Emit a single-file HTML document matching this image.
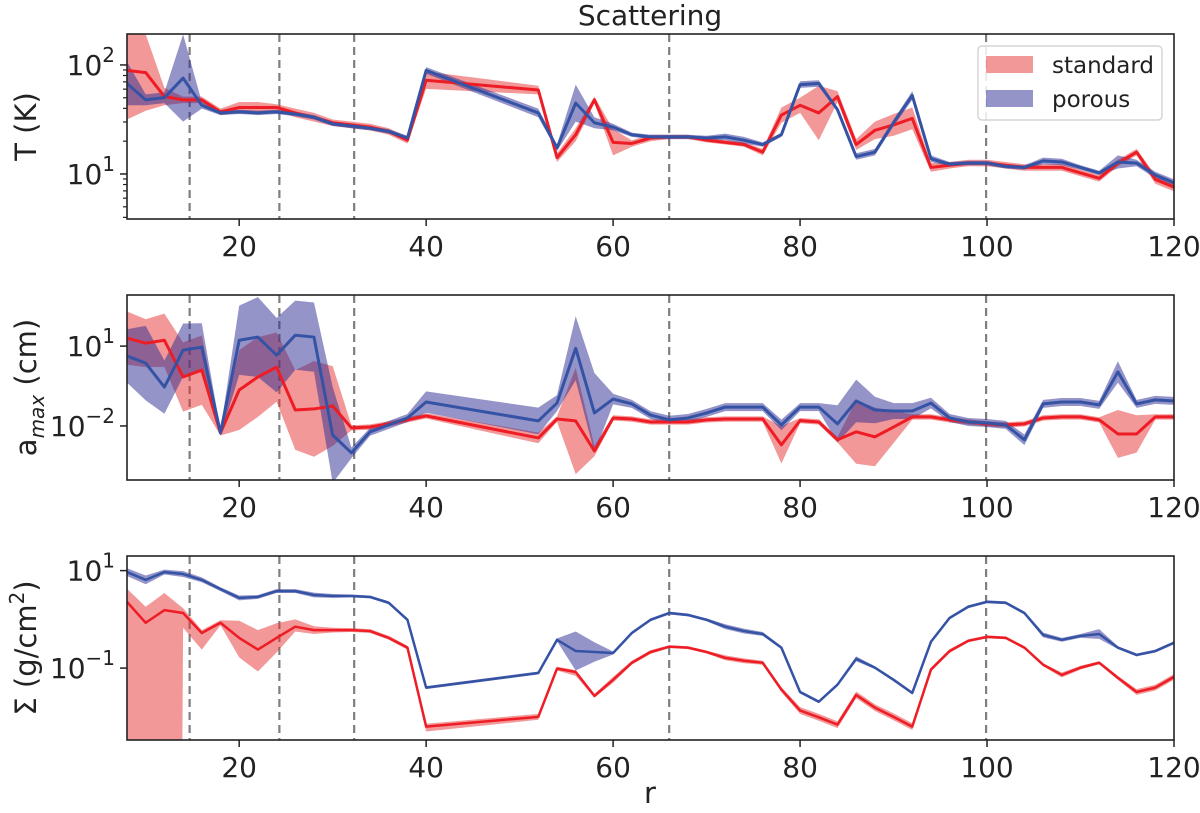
<!DOCTYPE html>
<html><head><meta charset="utf-8">
<style>
html,body{margin:0;padding:0;background:#fff;overflow:hidden;width:1200px;height:813px;}
svg{display:block;font-family:"DejaVu Sans","Liberation Sans",sans-serif;}
</style></head>
<body>
<svg id="chart" width="1200" height="813" viewBox="0 0 1200 813"></svg>
<script>
const radii = [8,10,12,14,16,18,20,22,24,26,28,30,32,34,36,38,40,52,54,56,58,60,62,64,66,68,70,72,74,76,78,80,82,84,86,88,90,92,94,96,98,100,102,104,106,108,110,112,114,116,118,120];
const gapLines = [14.7,24.3,32.3,66,99.9];
const xTicks = [20,40,60,80,100,120];
// log10 T (K)
const logT_std = [1.95,1.93,1.71,1.68,1.68,1.57,1.61,1.61,1.61,1.56,1.52,1.47,1.45,1.43,1.39,1.31,1.86,1.77,1.15,1.36,1.68,1.29,1.28,1.33,1.34,1.34,1.31,1.29,1.27,1.20,1.54,1.63,1.56,1.71,1.27,1.40,1.45,1.51,1.06,1.08,1.10,1.10,1.08,1.06,1.06,1.06,1.01,0.96,1.10,1.20,0.95,0.88];
const errT_std = [0.45,0.35,0.08,0.03,0.03,0.03,0.05,0.05,0.03,0.04,0.04,0.03,0.03,0.03,0.03,0.03,0.08,0.04,0.04,0.06,0.03,0.12,0.03,0.03,0.02,0.02,0.02,0.02,0.02,0.03,0.07,0.07,0.25,0.05,0.05,0.08,0.1,0.1,0.04,0.03,0.03,0.03,0.03,0.03,0.03,0.03,0.03,0.03,0.03,0.03,0.04,0.04];
const logT_por = [1.83,1.68,1.70,1.88,1.63,1.56,1.57,1.56,1.57,1.55,1.52,1.46,1.44,1.42,1.39,1.33,1.95,1.56,1.24,1.65,1.47,1.43,1.36,1.34,1.34,1.34,1.33,1.34,1.31,1.27,1.36,1.82,1.83,1.59,1.16,1.20,1.47,1.72,1.14,1.09,1.10,1.10,1.07,1.06,1.12,1.11,1.06,1.01,1.11,1.10,0.99,0.92];
const errT_por = [0.2,0.05,0.05,0.4,0.03,0.02,0.02,0.02,0.02,0.02,0.02,0.02,0.02,0.02,0.02,0.02,0.03,0.04,0.03,0.17,0.05,0.03,0.02,0.02,0.02,0.02,0.02,0.03,0.03,0.02,0.02,0.03,0.03,0.02,0.03,0.03,0.03,0.04,0.03,0.02,0.02,0.02,0.02,0.02,0.03,0.03,0.02,0.02,0.06,0.03,0.03,0.03];
// log10 a_max (cm)
const logA_std = [1.30,1.11,1.22,-0.16,0.10,-2.26,-0.65,-0.16,0.21,-1.40,-1.36,-1.25,-2.07,-2.04,-1.92,-1.77,-1.62,-2.45,-1.74,-1.81,-2.94,-1.70,-1.74,-1.85,-1.85,-1.85,-1.77,-1.74,-1.74,-1.74,-2.71,-1.80,-1.85,-2.52,-2.22,-2.41,-2.04,-1.66,-1.66,-1.77,-1.85,-1.92,-1.96,-1.92,-1.70,-1.66,-1.66,-1.77,-2.30,-2.30,-1.66,-1.66];
const errA_std = [1.0,0.9,1.0,1.3,1.3,0.1,1.5,1.5,1.3,1.5,1.8,1.5,0.1,0.1,0.1,0.1,0.1,0.2,0.1,2.0,0.2,0.1,0.1,0.1,0.1,0.1,0.1,0.1,0.1,0.1,0.7,0.1,0.1,0.1,1.2,1.1,0.6,0.1,0.1,0.1,0.1,0.1,0.1,0.1,0.1,0.1,0.1,0.1,0.9,0.7,0.1,0.1];
const logA_por = [0.63,0.36,-0.54,0.85,0.96,-2.26,1.22,1.34,0.66,1.41,1.34,-2.34,-3.01,-2.22,-1.96,-1.70,-1.10,-1.81,-1.14,0.92,-1.51,-0.99,-1.17,-1.59,-1.77,-1.70,-1.51,-1.29,-1.29,-1.29,-1.96,-1.29,-1.29,-1.92,-1.06,-1.40,-1.44,-1.44,-1.14,-1.70,-1.85,-1.89,-1.96,-2.52,-1.17,-1.10,-1.10,-1.21,0.03,-1.17,-1.02,-1.06];
const errA_por = [1.0,1.4,1.0,1.0,0.9,0.1,1.3,1.5,1.4,1.3,1.3,1.8,0.2,0.15,0.15,0.15,0.4,0.5,0.3,1.2,1.5,0.2,0.15,0.15,0.15,0.15,0.15,0.15,0.15,0.15,0.2,0.15,0.15,0.7,0.8,0.5,0.3,0.3,0.2,0.15,0.15,0.15,0.15,0.2,0.15,0.15,0.15,0.15,0.4,0.15,0.15,0.15];
// log10 Sigma (g/cm^2)
const logS_std = [0.36,-0.07,0.19,0.13,-0.28,-0.07,-0.38,-0.62,-0.38,-0.15,-0.22,-0.22,-0.22,-0.24,-0.38,-0.58,-2.20,-2.00,-1.01,-1.08,-1.57,-1.24,-0.89,-0.67,-0.56,-0.58,-0.67,-0.79,-0.85,-0.89,-1.44,-1.87,-2.01,-2.16,-1.55,-1.81,-2.00,-2.20,-1.03,-0.65,-0.44,-0.36,-0.38,-0.58,-0.93,-1.14,-0.99,-0.89,-1.20,-1.49,-1.40,-1.18];
const errS_std_hi = [0.27,0.33,0.35,0.1,0.06,0.05,0.35,0.4,0.3,0.15,0.08,0.05,0.04,0.04,0.04,0.04,0.06,0.06,0.04,0.04,0.04,0.06,0.04,0.04,0.03,0.03,0.03,0.05,0.05,0.04,0.05,0.07,0.07,0.07,0.07,0.07,0.07,0.07,0.04,0.04,0.03,0.03,0.03,0.03,0.03,0.05,0.04,0.03,0.04,0.06,0.06,0.06];
const errS_std_lo = [20,20,60,0.3,0.34,0.05,0.4,0.45,0.3,0.1,0.08,0.05,0.04,0.04,0.04,0.04,0.1,0.06,0.04,0.08,0.04,0.06,0.04,0.04,0.03,0.03,0.03,0.05,0.05,0.04,0.05,0.07,0.07,0.07,0.07,0.07,0.07,0.07,0.04,0.04,0.03,0.03,0.03,0.03,0.03,0.05,0.04,0.03,0.04,0.06,0.06,0.06];
const logS_por = [0.97,0.81,0.97,0.93,0.81,0.62,0.44,0.46,0.58,0.58,0.50,0.48,0.48,0.46,0.34,-0.01,-1.40,-1.10,-0.42,-0.65,-0.67,-0.69,-0.28,-0.01,0.13,0.09,-0.01,-0.15,-0.24,-0.30,-0.58,-1.49,-1.69,-1.34,-0.81,-0.99,-1.24,-1.51,-0.46,0.03,0.26,0.36,0.34,0.13,-0.32,-0.42,-0.34,-0.30,-0.58,-0.73,-0.65,-0.48];
const errS_por = [0.08,0.09,0.05,0.06,0.05,0.04,0.05,0.04,0.04,0.04,0.05,0.04,0.03,0.03,0.03,0.03,0.03,0.03,0.03,0.4,0.2,0.03,0.03,0.03,0.03,0.03,0.03,0.05,0.05,0.04,0.03,0.03,0.03,0.03,0.05,0.03,0.03,0.03,0.03,0.03,0.03,0.03,0.03,0.03,0.05,0.04,0.04,0.1,0.03,0.03,0.03,0.03];

const NS="http://www.w3.org/2000/svg";
const svg=document.getElementById('chart');
const X0=127,X1=1174,RMIN=8,RMAX=120;
function xs(r){return X0+(r-RMIN)/(RMAX-RMIN)*(X1-X0);}
function mk(tag,attrs,parent){const e=document.createElementNS(NS,tag);for(const k in attrs)e.setAttribute(k,attrs[k]);(parent||svg).appendChild(e);return e;}
function clipEdge(pts,inside,inter){
  const out=[];
  for(let i=0;i<pts.length;i++){
    const a=pts[i],b=pts[(i+1)%pts.length];
    const ia=inside(a),ib=inside(b);
    if(ia)out.push(a);
    if(ia!==ib)out.push(inter(a,b));
  }
  return out;
}
function clipY(pts,ymin,ymax){
  const ix=(a,b,y)=>[a[0]+(b[0]-a[0])*(y-a[1])/(b[1]-a[1]),y];
  let r=clipEdge(pts,p=>p[1]<=ymax,(a,b)=>ix(a,b,ymax));
  r=clipEdge(r,p=>p[1]>=ymin,(a,b)=>ix(a,b,ymin));
  return r;
}

const panels=[
 {key:'temperature',top:34,bot:219,lmin:0.587,lmax:2.284,major:[[2,'10','2'],[1,'10','1']],minor:true,
  series:[[logT_std,errT_std,errT_std],[logT_por,errT_por,errT_por]],lw:3},
 {key:'amax',top:295,bot:480,lmin:-4.03,lmax:2.92,major:[[1,'10','1'],[-2,'10','\u22122']],minor:false,
  series:[[logA_std,errA_std,errA_std],[logA_por,errA_por,errA_por]],lw:3},
 {key:'sigma',top:556,bot:740,lmin:-2.475,lmax:1.30,major:[[1,'10','1'],[-1,'10','\u22121']],minor:false,
  series:[[logS_std,errS_std_hi,errS_std_lo],[logS_por,errS_por,errS_por]],lw:2.5}
];
const fills=['rgba(229,49,49,0.5)','rgba(41,41,145,0.5)'];
const lines=['#ee1c25','#3553a5'];
const names=['standard','porous'];

panels.forEach(p=>{
  const g=mk('g',{});
  
  
  const ys=l=>p.bot-(l-p.lmin)/(p.lmax-p.lmin)*(p.bot-p.top);
  const cid='clip-'+p.key;
  const cp=mk('clipPath',{id:cid},g);mk('rect',{x:X0,y:p.top,width:X1-X0,height:p.bot-p.top},cp);
  const plot=mk('g',{'clip-path':'url(#'+cid+')'},g);
  gapLines.forEach(r=>{
    const l=mk('line',{x1:xs(r),x2:xs(r),y1:p.top,y2:p.bot,stroke:'#7f7f7f','stroke-width':2.2,'stroke-dasharray':'8,5'},plot);
    
    
  });
  p.series.forEach((s,i)=>{
    const [v,eh,el]=s;
    const up=radii.map((r,j)=>[xs(r),ys(v[j]+eh[j])]);
    const dn=radii.map((r,j)=>[xs(r),ys(v[j]-el[j])]).reverse();
    const poly=clipY(up.concat(dn),p.top,p.bot);
    const band=mk('polygon',{points:poly.map(q=>q[0].toFixed(1)+','+q[1].toFixed(1)).join(' '),fill:fills[i],stroke:'none'},plot);
    
    
  });
  p.series.forEach((s,i)=>{
    const v=s[0];
    const ln=mk('polyline',{points:radii.map((r,j)=>xs(r)+','+ys(v[j])).join(' '),fill:'none',stroke:lines[i],'stroke-width':p.lw,'stroke-linejoin':'round'},plot);
    
    
  });
  const fr=mk('rect',{x:X0,y:p.top,width:X1-X0,height:p.bot-p.top,fill:'none',stroke:'#222','stroke-width':1.6},g);
  
  
  xTicks.forEach(t=>{
    mk('line',{x1:xs(t),x2:xs(t),y1:p.bot,y2:p.bot+7,stroke:'#222','stroke-width':1.5},g);
    const tx=mk('text',{x:xs(t),y:p.bot+37,'text-anchor':'middle','font-size':28,fill:'#222'},g);
    tx.textContent=t;
    
    
  });
  p.major.forEach(m=>{
    const y=ys(m[0]);
    mk('line',{x1:X0-7,x2:X0,y1:y,y2:y,stroke:'#222','stroke-width':1.5},g);
    const tx=mk('text',{x:X0-12,y:y+10,'text-anchor':'end','font-size':28,fill:'#222'},g);
    const ts=mk('tspan',{},tx);ts.textContent=m[1];
    const sup=mk('tspan',{dy:-13,'font-size':20},tx);sup.textContent=m[2];
    
    
  });
  if(p.minor){
    for(let d=0;d<=2;d++)for(let k=2;k<=9;k++){
      const l=d+Math.log10(k);
      if(l>p.lmin&&l<p.lmax){const y=ys(l);mk('line',{x1:X0-4,x2:X0,y1:y,y2:y,stroke:'#222','stroke-width':1.2},g);}
    }
  }
  const cy=(p.top+p.bot)/2;
  const yt=mk('text',{x:0,y:0,transform:'translate(36,'+cy+') rotate(-90)','text-anchor':'middle','font-size':29,fill:'#222'},g);
  
  
  if(p.key==='temperature'){yt.textContent='T (K)';}
  else if(p.key==='amax'){
    const a=mk('tspan',{},yt);a.textContent='a';
    const b=mk('tspan',{dy:8,'font-size':20,'font-style':'italic'},yt);b.textContent='max';
    const c=mk('tspan',{dy:-8},yt);c.textContent=' (cm)';
  } else {
    const a=mk('tspan',{},yt);a.textContent='\u03A3 (g/cm';
    const b=mk('tspan',{dy:-12,'font-size':20},yt);b.textContent='2';
    const c=mk('tspan',{dy:12},yt);c.textContent=')';
  }
});

const tt=mk('text',{x:650,y:25,'text-anchor':'middle','font-size':28,fill:'#222'});
tt.textContent='Scattering';


const xl=mk('text',{x:650,y:803,'text-anchor':'middle','font-size':29,fill:'#222'});
xl.textContent='r';



const lg=mk('g',{});


mk('rect',{x:978,y:46,width:184,height:74,rx:4,fill:'#fff','fill-opacity':0.85,stroke:'#ccc','stroke-width':1.2},lg);
names.forEach((n,i)=>{
  const e=mk('g',{},lg);
  
  
  mk('rect',{x:986,y:56+i*34,width:47,height:17,fill:fills[i]},e);
  const t=mk('text',{x:1052,y:73+i*34,'font-size':23,fill:'#222'},e);
  t.textContent=n;
});
</script>
</body></html>
